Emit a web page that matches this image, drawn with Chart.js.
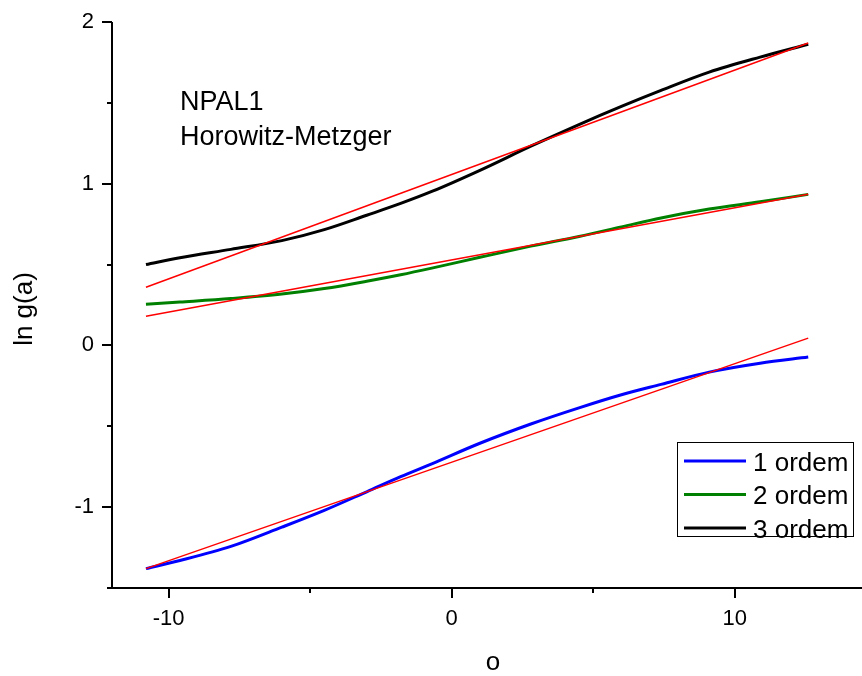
<!DOCTYPE html>
<html>
<head>
<meta charset="utf-8">
<script src="https://cdn.jsdelivr.net/npm/chart.js@4/dist/chart.umd.min.js"></script>
<style>
  html, body { margin: 0; padding: 0; background: #ffffff; }
  #c { display: block; }
</style>
</head>
<body>
<canvas id="c" width="862" height="676"></canvas>
<script>
// Sample positions along the horizontal axis (o)
const orderX = [-10.8, -9.6, -7.8, -6.0, -4.5, -3.0, -1.8, -0.7, 1.0, 2.8, 4.5, 6.0, 7.4, 9.1, 10.9, 12.6];

// ln g(a) for each expansion order
const ordem1 = [-1.38, -1.33, -1.243, -1.124, -1.02, -0.905, -0.812, -0.732, -0.605, -0.486, -0.386, -0.305, -0.241, -0.165, -0.11, -0.072];
const ordem2 = [0.254, 0.268, 0.29, 0.318, 0.352, 0.397, 0.437, 0.478, 0.545, 0.614, 0.674, 0.733, 0.788, 0.843, 0.888, 0.934];
const ordem3 = [0.50, 0.542, 0.594, 0.648, 0.716, 0.805, 0.878, 0.952, 1.083, 1.232, 1.366, 1.478, 1.577, 1.69, 1.783, 1.862];

// Straight-line fits (end points)
const fitX = [-10.8, 12.6];
const fit1 = [-1.38, 0.045];
const fit2 = [0.18, 0.935];
const fit3 = [0.36, 1.87];

// Axis ticks and labels
const xMajorTicks = [-10, 0, 10];
const xMinorTicks = [-5, 5];
const yMajorTicks = [-1, 0, 1, 2];
const yMinorTicks = [-0.5, 0.5, 1.5];
const seriesNames = ['1 ordem', '2 ordem', '3 ordem'];
const noteLines = ['NPAL1', 'Horowitz-Metzger'];
const xTitle = 'o';
const yTitle = 'ln g(a)';

const FONT = '"Liberation Sans", Arial, sans-serif';
const curveColors = ['#0000ff', '#008000', '#000000'];
const fitColor = '#ff0000';

const pts = (xs, ys) => xs.map((x, i) => ({ x: x, y: ys[i] }));

const curves = [ordem1, ordem2, ordem3].map((ys, i) => ({
  label: seriesNames[i],
  data: pts(orderX, ys),
  borderColor: curveColors[i],
  borderWidth: 3,
  pointRadius: 0,
  cubicInterpolationMode: 'monotone',
  fill: false,
  order: 1
}));
const fits = [fit1, fit2, fit3].map((ys) => ({
  label: 'fit',
  data: pts(fitX, ys),
  borderColor: fitColor,
  borderWidth: 1.5,
  pointRadius: 0,
  fill: false,
  isFit: true,
  order: 0
}));

// Axes, minor ticks, titles, note and framed legend
const decorations = {
  id: 'decorations',
  afterDraw(chart) {
    const { ctx, chartArea: a, scales: { x, y } } = chart;
    ctx.save();
    ctx.strokeStyle = '#000';
    ctx.fillStyle = '#000';
    ctx.lineWidth = 2;
    ctx.lineCap = 'butt';

    // axis lines
    ctx.beginPath();
    ctx.moveTo(a.left, a.top);
    ctx.lineTo(a.left, a.bottom);
    ctx.moveTo(a.left - 5, a.bottom);
    ctx.lineTo(a.right, a.bottom);
    ctx.stroke();

    // tick marks
    ctx.beginPath();
    xMajorTicks.forEach(v => { const p = Math.round(x.getPixelForValue(v)); ctx.moveTo(p, a.bottom); ctx.lineTo(p, a.bottom + 10); });
    xMinorTicks.forEach(v => { const p = Math.round(x.getPixelForValue(v)); ctx.moveTo(p, a.bottom); ctx.lineTo(p, a.bottom + 5); });
    yMajorTicks.forEach(v => { const p = Math.round(y.getPixelForValue(v)); ctx.moveTo(a.left, p); ctx.lineTo(a.left - 10, p); });
    yMinorTicks.forEach(v => { const p = Math.round(y.getPixelForValue(v)); ctx.moveTo(a.left, p); ctx.lineTo(a.left - 5, p); });
    ctx.stroke();

    // axis titles
    ctx.font = '26px ' + FONT;
    ctx.textAlign = 'center';
    ctx.textBaseline = 'alphabetic';
    ctx.fillText(xTitle, (a.left + a.right) / 2 + 6, 670);
    ctx.save();
    ctx.translate(32, 309);
    ctx.rotate(-Math.PI / 2);
    ctx.fillText(yTitle, 0, 0);
    ctx.restore();

    // note in the upper left
    ctx.font = '27px ' + FONT;
    ctx.textAlign = 'left';
    ctx.fillText(noteLines[0], a.left + 68, 110);
    ctx.fillText(noteLines[1], a.left + 68, 145);

    // legend
    const bx = a.right - 185, by = a.bottom - 146, bw = 176, bh = 94;
    ctx.lineWidth = 1;
    ctx.strokeRect(bx + 0.5, by + 0.5, bw, bh);
    ctx.font = '26px ' + FONT;
    const items = chart.data.datasets.filter(d => !d.isFit);
    items.forEach((d, i) => {
      const ly = by + 19 + i * 33.5;
      ctx.strokeStyle = d.borderColor;
      ctx.lineWidth = 3;
      ctx.beginPath();
      ctx.moveTo(bx + 7, ly);
      ctx.lineTo(bx + 69, ly);
      ctx.stroke();
      ctx.fillStyle = '#000';
      ctx.fillText(d.label, bx + 76, ly + 9.5);
    });
    ctx.restore();
  }
};

new Chart(document.getElementById('c'), {
  type: 'line',
  data: { datasets: curves.concat(fits) },
  options: {
    responsive: false,
    devicePixelRatio: 1,
    animation: false,
    layout: { padding: { top: 22, right: 0, bottom: 0, left: 0 } },
    plugins: { legend: { display: false }, tooltip: { enabled: false } },
    scales: {
      x: {
        type: 'linear',
        min: -12,
        max: 14.5,
        grid: { display: false, drawTicks: false },
        border: { display: false },
        afterBuildTicks: s => { s.ticks = xMajorTicks.map(v => ({ value: v })); },
        afterFit: s => { s.height = 88; s.paddingLeft = 0; s.paddingRight = 0; },
        ticks: { color: '#000', padding: 18, font: { family: FONT, size: 22 } }
      },
      y: {
        type: 'linear',
        min: -1.5,
        max: 2,
        grid: { display: false, drawTicks: false },
        border: { display: false },
        afterBuildTicks: s => { s.ticks = yMajorTicks.map(v => ({ value: v })); },
        afterFit: s => { s.width = 112; s.paddingTop = 0; s.paddingBottom = 0; },
        ticks: { color: '#000', padding: 18, font: { family: FONT, size: 22 } }
      }
    }
  },
  plugins: [decorations]
});
</script>
</body>
</html>
